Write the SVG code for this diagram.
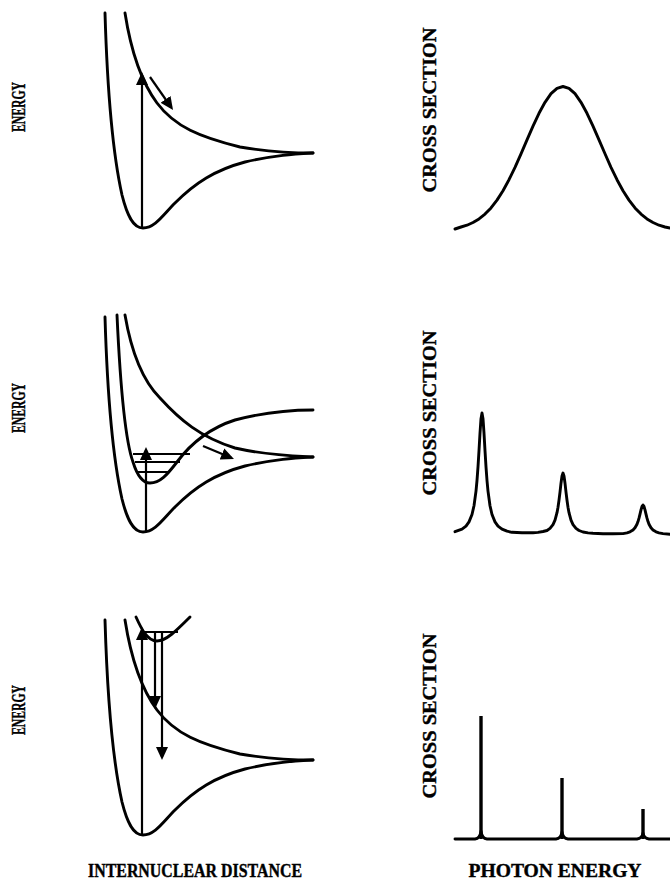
<svg xmlns="http://www.w3.org/2000/svg" width="670" height="892" viewBox="0 0 670 892">
<style>
.c{fill:none;stroke:#000;stroke-width:2.9;stroke-linecap:round;stroke-linejoin:round}
.lv{fill:none;stroke:#000;stroke-width:2}
.ar{fill:none;stroke:#000;stroke-width:2.2}
.sp{fill:none;stroke:#000;stroke-width:3.4}
.t{font-family:"Liberation Serif","DejaVu Serif",serif;font-weight:bold;fill:#000;stroke:#000;stroke-width:0.4}
</style>
<defs>
<marker id="ah" markerUnits="userSpaceOnUse" markerWidth="13" markerHeight="12" refX="10" refY="6" orient="auto">
<path d="M0,0 L13,6 L0,12 z" fill="#000"/>
</marker>
<path id="ground" d="M105,13 C107,80 112,150 122,195 C127,215 133,228 143,228 C155,228 163,215 175,203 C195,183 215,170 245,162 C275,155 295,154 313,153"/>
<path id="repul" d="M125,13 C130,45 140,80 157,103 C175,127 200,137 240,147 C270,152 295,153 313,153"/>
</defs>
<rect width="670" height="892" fill="#fff"/>

<g id="panel-direct">
<use href="#ground" class="c"/>
<use href="#repul" class="c"/>
</g>

<g id="panel-predissociation">
<use href="#ground" class="c" transform="translate(0,304)"/>
<path class="c" d="M125,315 C131,350 142,380 160,398 C180,420 200,437 235,448 C265,455 295,456 313,457"/>
<path class="c" d="M117,315 C120,380 125,440 133,462 C137,475 143,483 150,483 C160,483 167,475 177,462 C192,442 210,428 235,420 C265,412 290,410 313,410"/>
<line class="lv" x1="133" y1="454" x2="190" y2="454"/>
<line class="lv" x1="135" y1="462" x2="180" y2="462"/>
<line class="lv" x1="138" y1="472" x2="168" y2="472"/>
</g>

<g id="panel-bound">
<use href="#ground" class="c" transform="translate(0,607)"/>
<use href="#repul" class="c" transform="translate(0,607)"/>
<path class="c" d="M136,617 C141,628 147,641 157,641 C166,641 176,631 190,617"/>
<line class="lv" x1="142" y1="632" x2="178" y2="632"/>
</g>

<g id="connectors">
<line class="ar" x1="142" y1="228" x2="142" y2="75" marker-end="url(#ah)"/>
<line class="ar" x1="150" y1="77" x2="171.3" y2="107.5" marker-end="url(#ah)"/>
<line class="ar" x1="146" y1="532" x2="146" y2="450" marker-end="url(#ah)"/>
<line class="ar" x1="203" y1="446" x2="231.2" y2="457.8" marker-end="url(#ah)"/>
<line class="ar" x1="142" y1="835" x2="142" y2="630" marker-end="url(#ah)"/>
<line class="ar" x1="155" y1="632" x2="155" y2="706" marker-end="url(#ah)"/>
<line class="ar" x1="162" y1="632" x2="162" y2="757" marker-end="url(#ah)"/>
</g>

<g id="spectrum-continuous">
<path class="c" d="M455,229 L461,227.0 L467,225.2 L473,222.5 L479,218.9 L485,214.1 L491,207.9 L497,200.1 L503,190.7 L509,179.7 L515,167.3 L521,153.8 L527,139.9 L533,126.1 L539,113.3 L545,102.3 L551,93.7 L557,88.3 L563,86.5 L569,88.3 L575,93.7 L581,102.3 L587,113.3 L593,126.1 L599,139.9 L605,153.8 L611,167.3 L617,179.7 L623,190.7 L629,200.1 L635,207.9 L641,214.1 L647,218.9 L653,222.5 L659,225.2 L665,227.0 L670,228.1"/>
</g>

<g id="spectrum-broadened">
<path class="c" d="M455,531.7 L462,529.1 L466,526.1 L469,521.9 L472,514.5 L474,505.7 L476,491.1 L477,480.5 L478,466.8 L479,450.6 L480,433.1 L481,418.7 L482,413 L483,418.7 L484,433.1 L485,450.6 L486,466.8 L487,480.5 L488,491.1 L490,505.7 L492,514.5 L495,521.9 L498,526.1 L502,529.1 L507,531.2 L512,532.3 L522,532.7 L533,532.7 L538,532.4 L543,531.5 L547,530.5 L550,528.4 L553,524.6 L555,520.1 L557,512.7 L558,507.3 L559,500.3 L560,492.1 L561,483.2 L562,475.9 L563,473 L564,475.9 L565,483.2 L566,492.1 L567,500.3 L568,507.3 L569,512.7 L571,520.1 L573,524.6 L576,528.4 L579,530.5 L583,532.0 L588,532.9 L593,533.3 L603,533.8 L613,533.8 L623,533.6 L627,532.8 L630,531.8 L633,530.0 L635,527.8 L637,524.2 L638,521.6 L639,518.2 L640,514.2 L641,509.9 L642,506.4 L643,505 L644,506.4 L645,509.9 L646,514.2 L647,518.2 L648,521.6 L649,524.2 L651,527.8 L653,530.0 L656,531.8 L659,532.8 L663,533.6 L670,534.2"/>
</g>

<g id="spectrum-discrete">
<path class="c" d="M455,839 L475,839 Q480,838.5 481,831 Q482,838.5 487,839 L556,839 Q561,838.5 562,832 Q563,838.5 568,839 L637,839 Q642,838.5 643,833 Q644,838.5 649,839 L670,839"/>
<line class="sp" x1="481" y1="839" x2="481" y2="716"/>
<line class="sp" x1="562" y1="839" x2="562" y2="778"/>
<line class="sp" x1="643" y1="839" x2="643" y2="809"/>
</g>

<g id="labels">
<text class="t" font-size="19" text-anchor="middle" textLength="50" lengthAdjust="spacingAndGlyphs" transform="translate(25,107) rotate(-90)">ENERGY</text>
<text class="t" font-size="19" text-anchor="middle" textLength="50" lengthAdjust="spacingAndGlyphs" transform="translate(25,408) rotate(-90)">ENERGY</text>
<text class="t" font-size="19" text-anchor="middle" textLength="50" lengthAdjust="spacingAndGlyphs" transform="translate(25,710) rotate(-90)">ENERGY</text>
<text class="t" font-size="19" text-anchor="middle" textLength="165" lengthAdjust="spacingAndGlyphs" transform="translate(436,110) rotate(-90)">CROSS SECTION</text>
<text class="t" font-size="19" text-anchor="middle" textLength="165" lengthAdjust="spacingAndGlyphs" transform="translate(436,413) rotate(-90)">CROSS SECTION</text>
<text class="t" font-size="19" text-anchor="middle" textLength="165" lengthAdjust="spacingAndGlyphs" transform="translate(436,716) rotate(-90)">CROSS SECTION</text>
<text class="t" font-size="18.5" x="195" y="877" text-anchor="middle" textLength="214" lengthAdjust="spacingAndGlyphs">INTERNUCLEAR DISTANCE</text>
<text class="t" font-size="18.5" x="555" y="877" text-anchor="middle" textLength="173" lengthAdjust="spacingAndGlyphs">PHOTON ENERGY</text>
</g>
</svg>
